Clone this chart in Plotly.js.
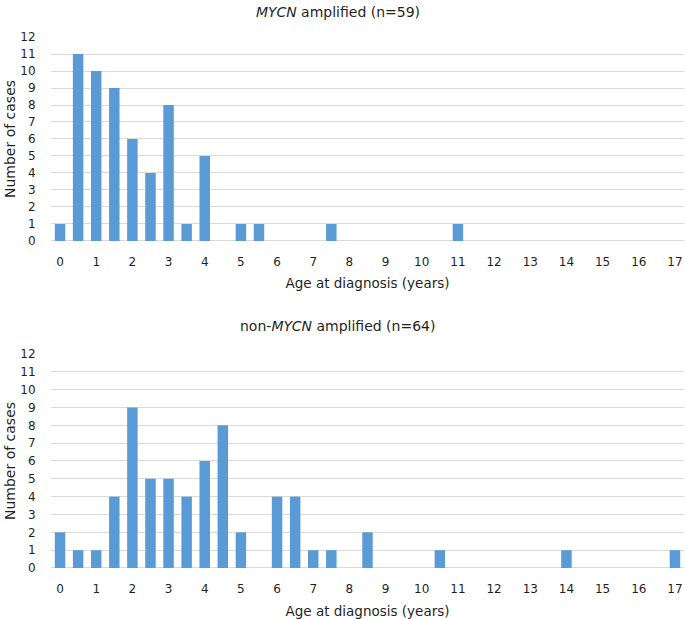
<!DOCTYPE html>
<html>
<head>
<meta charset="utf-8">
<script src="https://cdn.plot.ly/plotly-3.0.1.min.js"></script>
<style>html,body{margin:0;padding:0;background:#fff;}#chart{width:685px;height:619px;}</style>
</head>
<body>
<div id="chart"></div>
<script>
// Age at diagnosis (years), half-year bins
const ages = [0,0.5,1,1.5,2,2.5,3,3.5,4,4.5,5,5.5,6,6.5,7,7.5,8,8.5,9,9.5,10,10.5,11,11.5,12,12.5,13,13.5,14,14.5,15,15.5,16,16.5,17];
// MYCN amplified (n=59)
const mycnAmp = [1,11,10,9,6,4,8,1,5,0,1,1,0,0,0,1,0,0,0,0,0,0,1,0,0,0,0,0,0,0,0,0,0,0,0];
// non-MYCN amplified (n=64)
const nonMycnAmp = [2,1,1,4,9,5,5,4,6,8,2,0,4,4,1,1,0,2,0,0,0,1,0,0,0,0,0,0,1,0,0,0,0,0,1];
const xTickVals = [0,1,2,3,4,5,6,7,8,9,10,11,12,13,14,15,16,17];
const yTickVals = [0,1,2,3,4,5,6,7,8,9,10,11,12];
const titleTop = "<i>MYCN</i> amplified (n=59)";
const titleBottom = "non-<i>MYCN</i> amplified (n=64)";
const xTitle = "Age at diagnosis (years)";
const yTitle = "Number of cases";

const barColor = "#5B9BD5";
const fontFam = "'DejaVu Sans', sans-serif";
const textCol = "#1f1f1f";

const traces = [
  {type:"bar", x:ages, y:mycnAmp, xaxis:"x", yaxis:"y", marker:{color:barColor}, hoverinfo:"x+y"},
  {type:"bar", x:ages, y:nonMycnAmp, xaxis:"x2", yaxis:"y2", marker:{color:barColor}, hoverinfo:"x+y"}
];

function xax(anchor, standoff){
  return {
    anchor: anchor, domain:[0,1], range:[-0.25,17.25],
    tickmode:"array", tickvals:xTickVals, ticktext:xTickVals.map(String),
    showgrid:false, zeroline:false, showline:false,
    ticks:"outside", ticklen:10, tickcolor:"rgba(0,0,0,0)",
    tickfont:{size:12, color:textCol, family:fontFam},
    title:{text:xTitle, font:{size:13.5, color:textCol, family:fontFam}, standoff:standoff},
    fixedrange:true
  };
}
function yax(anchor, dom){
  return {
    anchor: anchor, domain:dom, range:[0,12],
    tickmode:"array", tickvals:yTickVals, ticktext:yTickVals.map(String),
    showgrid:true, gridcolor:"#d9d9d9", gridwidth:1,
    zeroline:true, zerolinecolor:"#d9d9d9", zerolinewidth:1, showline:false,
    ticks:"outside", ticklen:12, tickcolor:"rgba(0,0,0,0)",
    tickfont:{size:12, color:textCol, family:fontFam},
    title:{text:yTitle, font:{size:14, color:textCol, family:fontFam}, standoff:1},
    fixedrange:true
  };
}

const layout = {
  width:685, height:619,
  margin:{l:51, r:1, t:0, b:0},
  paper_bgcolor:"#ffffff", plot_bgcolor:"#ffffff",
  showlegend:false, bargap:0.42,
  font:{family:fontFam, color:textCol},
  xaxis: xax("y", 10),
  yaxis: yax("x", [0.6107, 0.9402]),
  xaxis2: xax("y2", 13),
  yaxis2: yax("x2", [0.0824, 0.4281]),
  annotations:[
    {text:titleTop, xref:"paper", yref:"paper", x:0.453, y:1-12/619, xanchor:"center", yanchor:"middle", showarrow:false, font:{size:14, color:textCol, family:fontFam}},
    {text:titleBottom, xref:"paper", yref:"paper", x:0.453, y:1-326/619, xanchor:"center", yanchor:"middle", showarrow:false, font:{size:14, color:textCol, family:fontFam}}
  ]
};

Plotly.newPlot("chart", traces, layout, {displayModeBar:false, staticPlot:true});
</script>
</body>
</html>
